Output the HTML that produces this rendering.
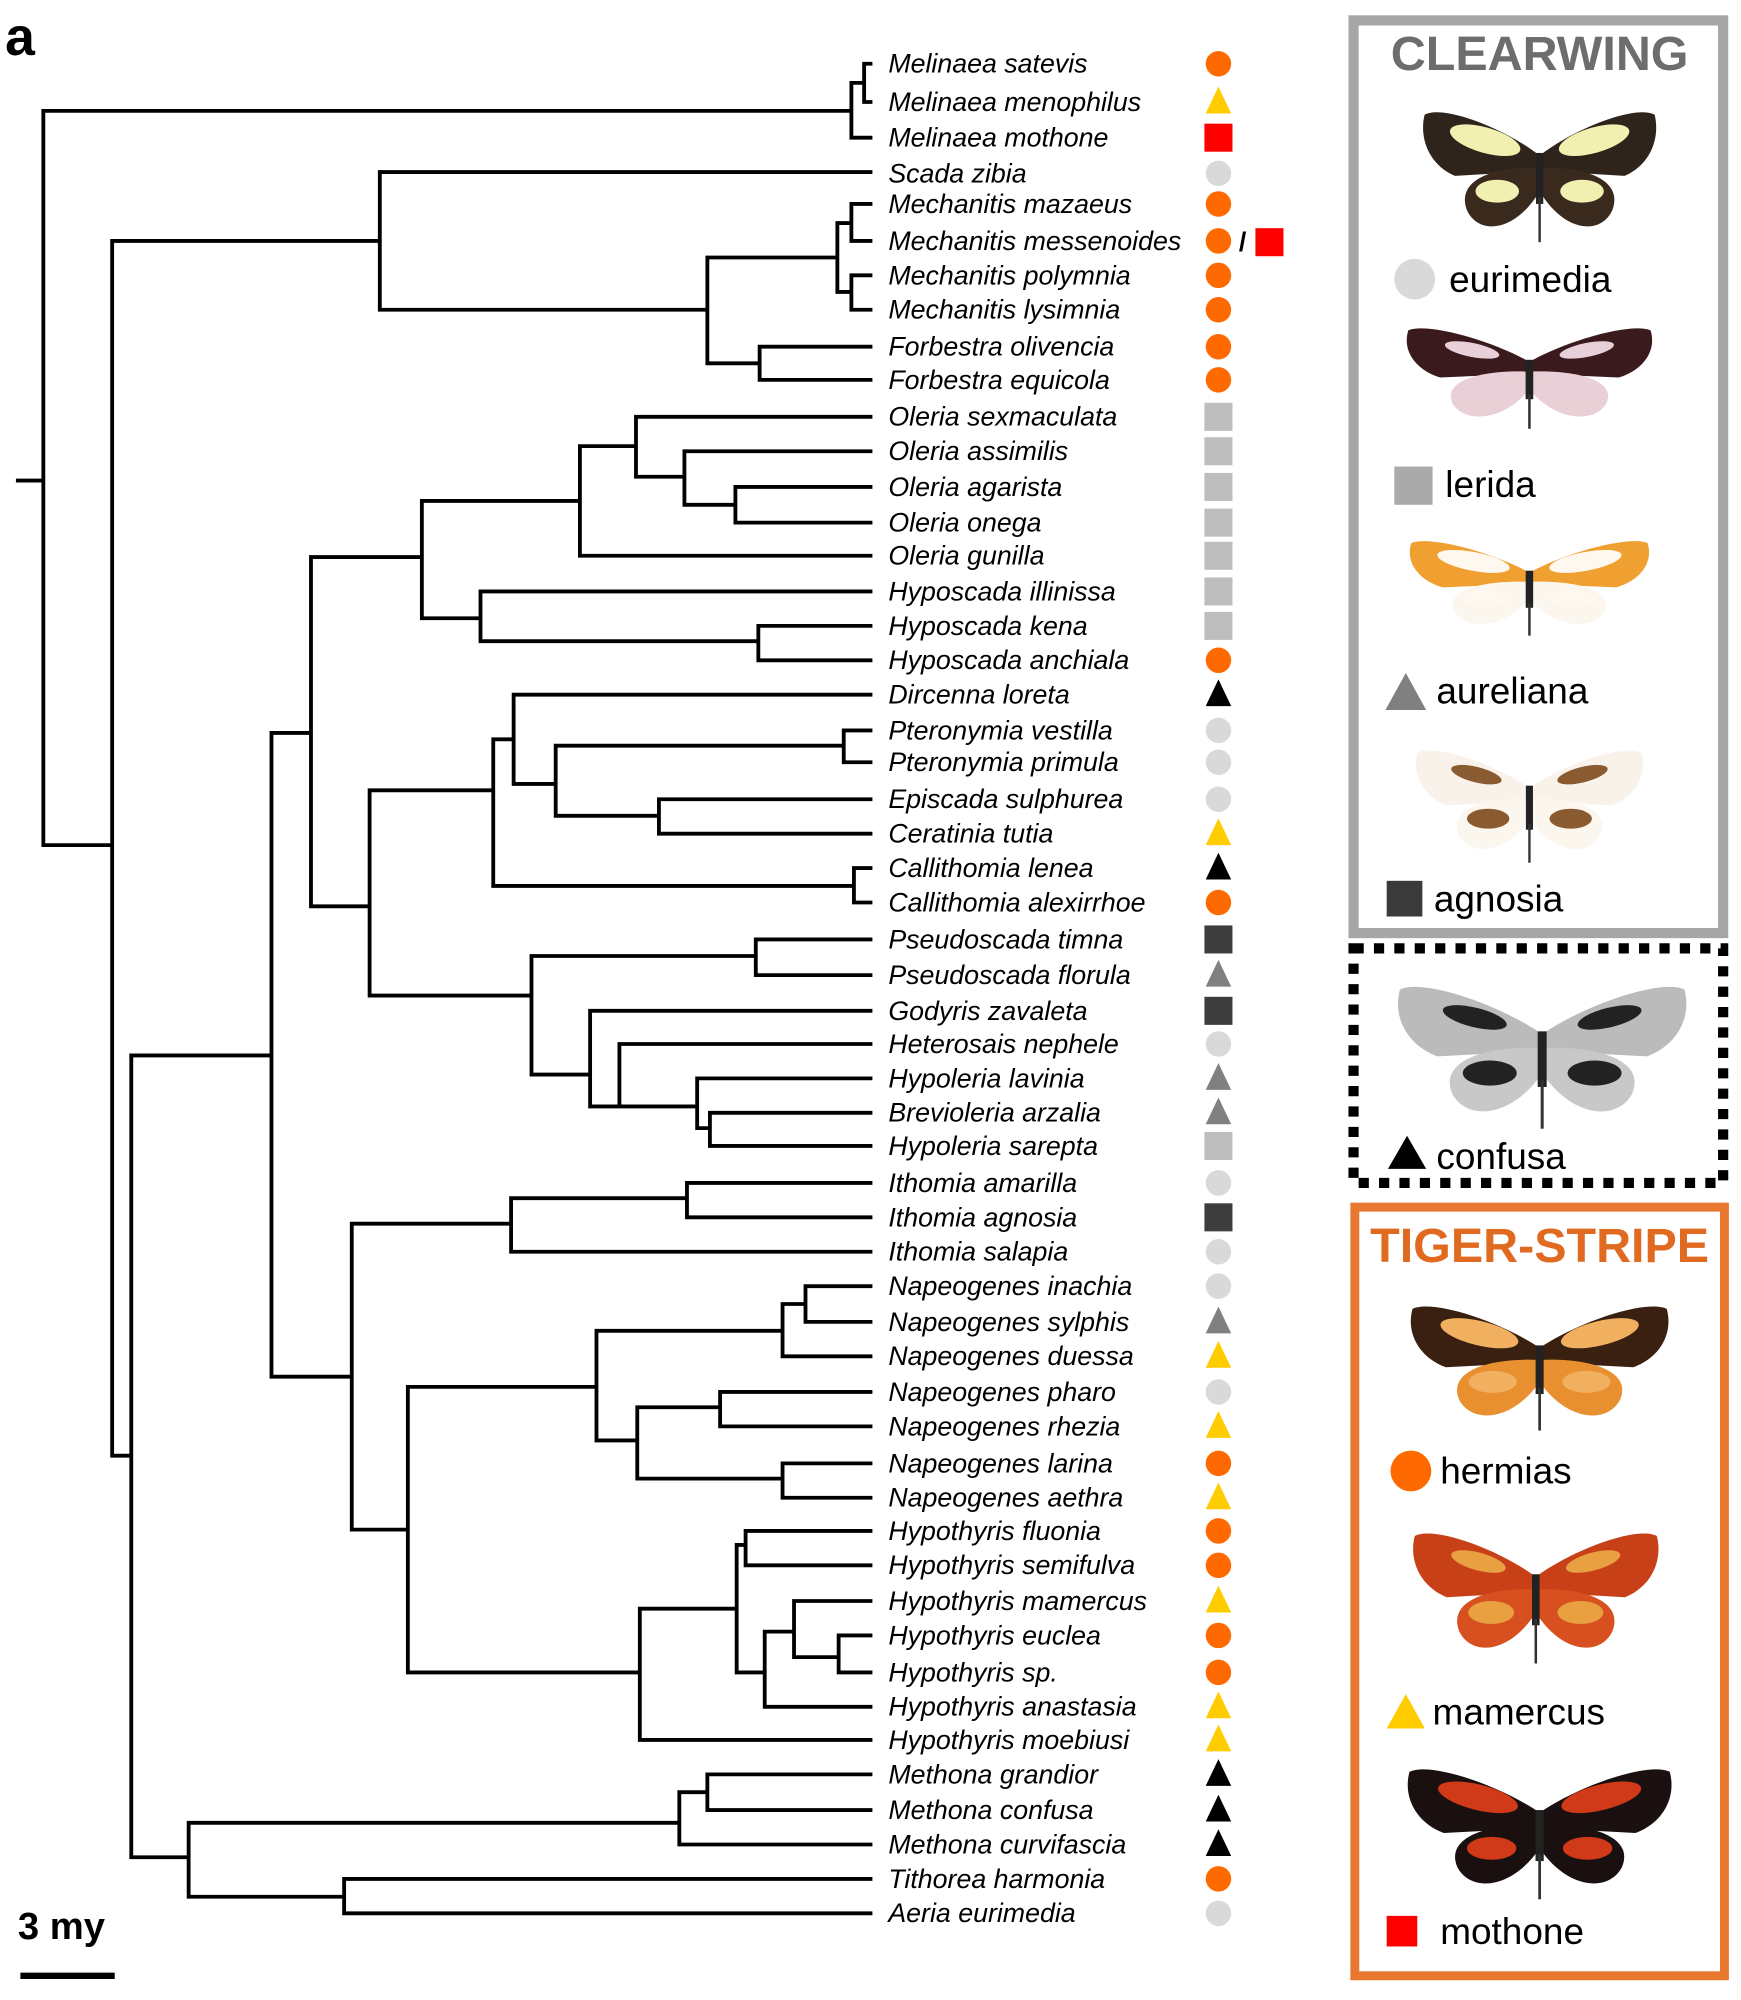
<!DOCTYPE html>
<html><head><meta charset="utf-8"><style>
html,body{margin:0;padding:0;background:#fff}
svg{display:block}
text{font-family:"Liberation Sans",sans-serif}
</style></head><body>
<svg id="s" width="1741" height="2000" viewBox="0 0 1366 1569" preserveAspectRatio="none" xmlns="http://www.w3.org/2000/svg">
<rect width="1366" height="1569" fill="#fff"/>
<text x="4" y="43" font-size="42" font-weight="bold">a</text>
<g id="tree" stroke="#000" stroke-width="3" fill="none" stroke-linecap="square"></g>
<g id="labels" font-size="21" font-style="italic"></g>
<g id="marks"></g>
<text x="14" y="1521" font-size="30" font-weight="bold">3 my</text>
<line x1="16" y1="1550" x2="90" y2="1550" stroke="#000" stroke-width="5"/>
<rect x="1062" y="16" width="290" height="716" fill="none" stroke="#a6a6a6" stroke-width="8"/>
<text x="1208" y="55" font-size="38" font-weight="bold" fill="#6d6d6d" text-anchor="middle">CLEARWING</text>
<rect x="1062" y="744" width="290" height="184" fill="none" stroke="#000" stroke-width="8" stroke-dasharray="8,8"/>
<rect x="1063" y="947" width="290" height="603" fill="none" stroke="#e8782f" stroke-width="7"/>
<text x="1208" y="990" font-size="38" font-weight="bold" fill="#e06a20" text-anchor="middle">TIGER-STRIPE</text>
<g id="bf"></g>
<g font-size="29">
<circle cx="1110" cy="219" r="16" fill="#d9d9d9"/><text x="1137" y="229">eurimedia</text>
<rect x="1094" y="366" width="30" height="30" fill="#aaa"/><text x="1134" y="390">lerida</text>
<polygon points="1103,528 1119,557 1087,557" fill="#808080"/><text x="1127" y="552">aureliana</text>
<rect x="1088" y="691" width="28" height="28" fill="#3a3a3a"/><text x="1125" y="715">agnosia</text>
<polygon points="1104,891 1119,917 1089,917" fill="#000"/><text x="1127" y="917">confusa</text>
<circle cx="1107" cy="1154" r="16" fill="#ff6a00"/><text x="1130" y="1164">hermias</text>
<polygon points="1103,1329 1118,1356 1088,1356" fill="#ffcc00"/><text x="1124" y="1353">mamercus</text>
<rect x="1088" y="1503" width="24" height="24" fill="#ff0000"/><text x="1130" y="1525">mothone</text>
</g>
</svg>
<script>
const NS="http://www.w3.org/2000/svg";
function el(p,t,a,txt){const e=document.createElementNS(NS,t);for(const k in a)e.setAttribute(k,a[k]);if(txt)e.textContent=txt;document.getElementById(p).appendChild(e);return e;}
const taxa=[["Melinaea satevis",50,"oc"],["Melinaea menophilus",80,"yt"],["Melinaea mothone",108,"rs"],["Scada zibia",136,"gc"],["Mechanitis mazaeus",160,"oc"],["Mechanitis messenoides",189,"oc"],["Mechanitis polymnia",216,"oc"],["Mechanitis lysimnia",243,"oc"],["Forbestra olivencia",272,"oc"],["Forbestra equicola",298,"oc"],["Oleria sexmaculata",327,"ls"],["Oleria assimilis",354,"ls"],["Oleria agarista",382,"ls"],["Oleria onega",410,"ls"],["Oleria gunilla",436,"ls"],["Hyposcada illinissa",464,"ls"],["Hyposcada kena",491,"ls"],["Hyposcada anchiala",518,"oc"],["Dircenna loreta",545,"bt"],["Pteronymia vestilla",573,"gc"],["Pteronymia primula",598,"gc"],["Episcada sulphurea",627,"gc"],["Ceratinia tutia",654,"yt"],["Callithomia lenea",681,"bt"],["Callithomia alexirrhoe",708,"oc"],["Pseudoscada timna",737,"ds"],["Pseudoscada florula",765,"mt"],["Godyris zavaleta",793,"ds"],["Heterosais nephele",819,"gc"],["Hypoleria lavinia",846,"mt"],["Brevioleria arzalia",873,"mt"],["Hypoleria sarepta",899,"ls"],["Ithomia amarilla",928,"gc"],["Ithomia agnosia",955,"ds"],["Ithomia salapia",982,"gc"],["Napeogenes inachia",1009,"gc"],["Napeogenes sylphis",1037,"mt"],["Napeogenes duessa",1064,"yt"],["Napeogenes pharo",1092,"gc"],["Napeogenes rhezia",1119,"yt"],["Napeogenes larina",1148,"oc"],["Napeogenes aethra",1175,"yt"],["Hypothyris fluonia",1201,"oc"],["Hypothyris semifulva",1228,"oc"],["Hypothyris mamercus",1256,"yt"],["Hypothyris euclea",1283,"oc"],["Hypothyris sp.",1312,"oc"],["Hypothyris anastasia",1339,"yt"],["Hypothyris moebiusi",1365,"yt"],["Methona grandior",1392,"bt"],["Methona confusa",1420,"bt"],["Methona curvifascia",1447,"bt"],["Tithorea harmonia",1474,"oc"],["Aeria eurimedia",1501,"gc"]];
function mark(t,x,y){
 const c={oc:"#ff6a00",yt:"#ffcc00",rs:"#ff0000",gc:"#d9d9d9",ls:"#bdbdbd",ds:"#3d3d3d",mt:"#808080",bt:"#000"}[t];
 if(t[1]=="c")el("marks","circle",{cx:x,cy:y,r:10,fill:c});
 else if(t[1]=="s")el("marks","rect",{x:x-11,y:y-11,width:22,height:22,fill:c});
 else el("marks","polygon",{points:`${x},${y-12} ${x+10},${y+9} ${x-10},${y+9}`,fill:c});
}
taxa.forEach(([n,y,m])=>{el("labels","text",{x:697,y:y+7},n);mark(m,956,y);});
mark("rs",996,190);el("labels","text",{x:972,y:197,"font-style":"normal","font-weight":"bold"},"/");
const H=[[14,377,34],[34,87,668],[668,65,678],[678,50,683],[678,80,683],[668,108,683],[34,663,88],
[88,189,298],[298,135,683],[298,243,555],[555,202,657],[657,175,668],[668,160,683],[668,189,683],[657,229,668],[668,216,683],[668,243,683],[555,285,596],[596,272,683],[596,298,683],
[88,1142,103],[103,828,213],[213,575,244],[244,437,331],[331,393,455],[455,350,499],[499,327,683],[499,374,537],[537,354,683],[537,396,577],[577,382,683],[577,410,683],[455,436,683],
[331,485,377],[377,464,683],[377,503,595],[595,491,683],[595,518,683],
[244,711,290],[290,620,387],[387,580,403],[403,545,683],[403,615,436],[436,585,662],[662,573,683],[662,598,683],[436,640,517],[517,627,683],[517,654,683],[387,695,670],[670,681,683],[670,708,683],
[290,781,417],[417,750,593],[593,737,683],[593,765,683],[417,843,463],[463,793,683],[463,868,486],[486,819,683],[486,868,547],[547,846,683],[547,885,557],[557,873,683],[557,899,683],
[213,1080,276],[276,960,401],[401,940,539],[539,928,683],[539,955,683],[401,982,683],[276,1200,320],[320,1088,468],[468,1044,614],[614,1023,632],[632,1009,683],[632,1037,683],[614,1064,683],[468,1130,500],[500,1104,565],[565,1092,683],[565,1119,683],[500,1160,614],[614,1148,683],[614,1175,683],
[320,1312,502],[502,1262,578],[578,1212,585],[585,1201,683],[585,1228,683],[578,1312,600],[600,1280,623],[623,1256,683],[623,1300,658],[658,1283,683],[658,1312,683],[600,1339,683],[502,1365,683],
[103,1457,148],[148,1430,533],[533,1406,555],[555,1392,683],[555,1420,683],[533,1447,683],[148,1488,270],[270,1474,683],[270,1501,683]];
let d="";H.forEach(([x1,y,x2])=>{d+=`M${x1} ${y}H${x2}`;});
const VL=[[34,87,663],[668,65,108],[678,50,80],[88,189,1142],[298,135,243],[555,202,285],[657,175,229],[668,160,189],[668,216,243],[596,272,298],[103,828,1457],[213,575,1080],[244,437,711],[331,393,485],[455,350,436],[499,327,374],[537,354,396],[577,382,410],[377,464,503],[595,491,518],[290,620,781],[387,580,695],[403,545,615],[436,585,640],[662,573,598],[517,627,654],[670,681,708],[417,750,843],[593,737,765],[463,793,868],[486,819,868],[547,846,885],[557,873,899],[276,960,1200],[401,940,982],[539,928,955],[320,1088,1312],[468,1044,1130],[614,1023,1064],[632,1009,1037],[500,1104,1160],[565,1092,1119],[614,1148,1175],[502,1262,1365],[578,1212,1312],[585,1201,1228],[600,1280,1339],[623,1256,1300],[658,1283,1312],[148,1430,1488],[533,1406,1447],[555,1392,1420],[270,1474,1501]];
VL.forEach(([x,a,b])=>{d+=`M${x} ${a}V${b}`;});
el("tree","path",{d:d});
function bf(cx,cy,w,h,fore,hind,patch,pp){
 const g=el("bf","g",{transform:`translate(${cx},${cy}) scale(${w/200},${h/110})`});
 g.id="b"+cx+cy;const id=g.id;
 [1,-1].forEach(s=>{
  el(id,"path",{d:`M0,-8 C${-30*s},-30 ${-80*s},-48 ${-95*s},-40 C${-100*s},-20 ${-90*s},0 ${-70*s},8 L0,4 Z`,fill:fore});
  el(id,"path",{d:`M0,2 C${-35*s},0 ${-70*s},10 ${-60*s},35 C${-50*s},55 ${-20*s},52 0,20 Z`,fill:hind});
  if(patch){el(id,"ellipse",{cx:-45*s,cy:-20,rx:pp?30:22,ry:pp?10:7,fill:patch,transform:`rotate(${s*15} ${-45*s} -20)`});
   el(id,"ellipse",{cx:-35*s,cy:20,rx:18,ry:9,fill:patch});}
 });
 el(id,"rect",{x:-3,y:-10,width:6,height:40,fill:"#222"});
 el(id,"line",{x1:0,y1:25,x2:0,y2:60,stroke:"#333","stroke-width":2});
}
bf(1208,130,190,110,"#2e241c","#3a2a1e","#f2f0b0",1);
bf(1200,290,200,85,"#3a1a1c","#e8d0d6","#e8d0d8",0);
bf(1200,455,195,80,"#f0a030","#fbf6ee","#fff8ee",1);
bf(1200,625,185,95,"#f8f2ea","#fbf6ee","#8a5a30",0);
bf(1210,820,235,120,"#bbbbbb","#c8c8c8","#222",0);
bf(1208,1065,210,105,"#3a2010","#e89030","#f0b060",1);
bf(1205,1245,200,110,"#c84018","#d85020","#e8a040",0);
bf(1208,1430,215,110,"#1a1010","#1a1010","#d03a18",1);
</script>
</body></html>
